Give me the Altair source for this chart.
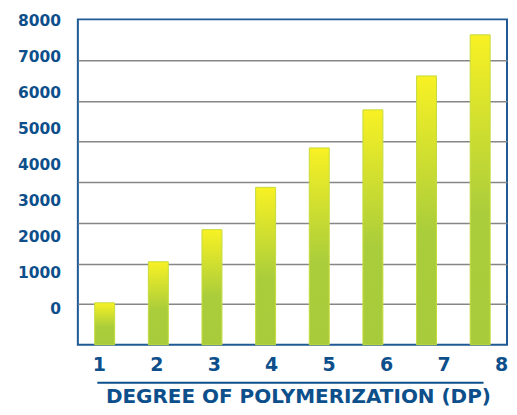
import altair as alt
import pandas as pd

# Degree of polymerization categories (bars)
dp = ["1", "2", "3", "4", "5", "6", "7", "8"]
# Bar heights, read against the chart's gridlines (one gridline per 1000)
values = [1030, 2040, 2830, 3870, 4840, 5775, 6610, 7620]

# Tick labels drawn on the left (their spacing differs from the gridlines)
y_tick_values = [0, 1000, 2000, 3000, 4000, 5000, 6000, 7000, 8000]
y_tick_labels = ["0", "1000", "2000", "3000", "4000", "5000", "6000", "7000", "8000"]

# Tick labels drawn below (their spacing differs from the bars)
x_tick_values = [1, 2, 3, 4, 5, 6, 7, 8]
x_tick_labels = ["1", "2", "3", "4", "5", "6", "7", "8"]

title_text = "DEGREE OF POLYMERIZATION (DP)"

BLUE = "#0d4f8b"
FONT = "DejaVu Sans"
W, H = 430, 326

bars_df = pd.DataFrame({"dp": dp, "value": values})
ylab_df = pd.DataFrame({"v": y_tick_values, "t": y_tick_labels})
xlab_df = pd.DataFrame({"v": x_tick_values, "t": x_tick_labels})

grad = alt.Gradient(
    gradient="linear",
    x1=0, y1=0, x2=0, y2=1,
    stops=[
        alt.GradientStop(offset=0, color="#f8f124"),
        alt.GradientStop(offset=0.58, color="#aacd3b"),
        alt.GradientStop(offset=1, color="#a7cb3b"),
    ],
)

bars = alt.Chart(bars_df).mark_bar(
    size=20, fill=grad, stroke="#c6dc3c", strokeWidth=1
).encode(
    x=alt.X(
        "dp:N",
        sort=dp,
        scale=alt.Scale(paddingInner=0, paddingOuter=0),
        axis=alt.Axis(
            labels=False, ticks=False, domain=False, grid=False,
            title=title_text, titleFont=FONT, titleFontSize=20,
            titleFontWeight="bold", titleColor=BLUE, titlePadding=42,
            titleX=220.5, titleAlign="center",
        ),
    ),
    y=alt.Y(
        "value:Q",
        scale=alt.Scale(domain=[0, 8000], nice=False),
        axis=alt.Axis(
            values=[1000, 2000, 3000, 4000, 5000, 6000, 7000],
            labels=False, ticks=False, domain=False, title=None,
            grid=True, gridColor="#868686", gridWidth=1.5,
        ),
    ),
)

ylabels = alt.Chart(ylab_df).mark_text(
    align="right", baseline="middle", font=FONT, fontSize=15.5,
    fontWeight="bold", color=BLUE,
).encode(
    y=alt.Y("v:Q", scale=alt.Scale(domain=[-1005, 8047], nice=False, zero=False), axis=None),
    x=alt.value(-17),
    text="t:N",
)

xlabels = alt.Chart(xlab_df).mark_text(
    align="center", baseline="middle", font=FONT, fontSize=19,
    fontWeight="bold", color=BLUE,
).encode(
    x=alt.X("v:Q", scale=alt.Scale(domain=[0.6265, 8.0955], nice=False, zero=False), axis=None),
    y=alt.value(H + 20),
    text="t:N",
)

underline = alt.Chart(pd.DataFrame({"a": [0]})).mark_rule(
    color=BLUE, strokeWidth=2
).encode(
    x=alt.value(19.5), x2=alt.value(406.5), y=alt.value(H + 38),
)

chart = alt.layer(bars, ylabels, xlabels, underline).resolve_scale(
    x="independent", y="independent"
).properties(
    width=W, height=H,
    padding={"left": 9, "top": 5, "right": 0, "bottom": 0},
    background="white",
).configure_view(
    stroke="#1f5a94", strokeWidth=2
)

chart.save("out.html", embed_options={"renderer": "svg", "actions": False})
